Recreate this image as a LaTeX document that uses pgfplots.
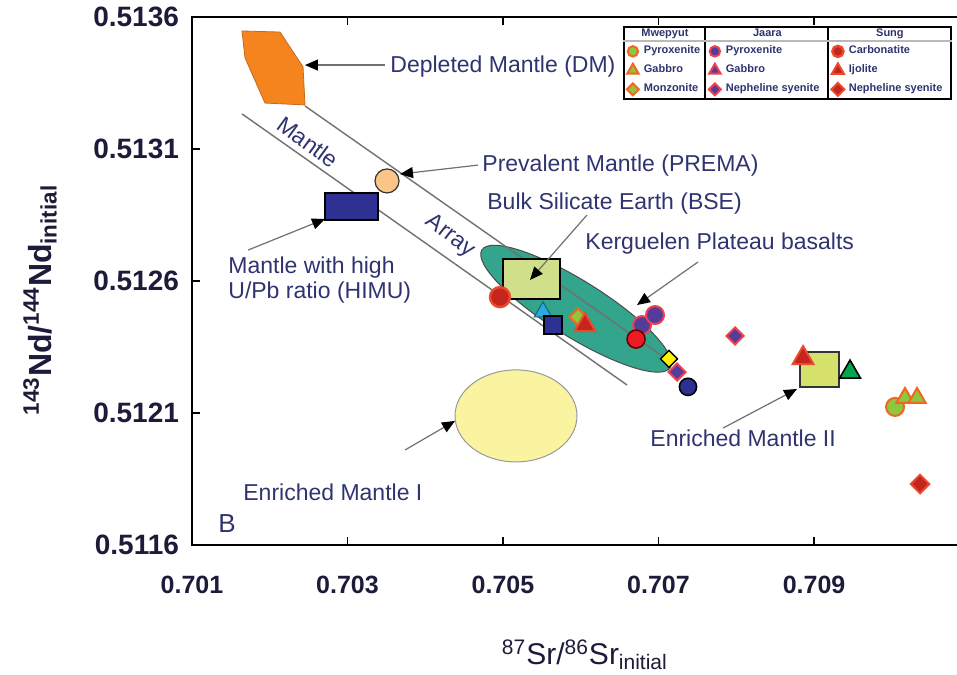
\documentclass[border=0pt]{standalone}
\usepackage{fontspec}
\setmainfont{Liberation Sans}
\usepackage{pgfplots}
\pgfplotsset{compat=1.18}
\usetikzlibrary{arrows.meta}

\definecolor{txt}{HTML}{2F3470}
\definecolor{tickc}{HTML}{1C1C3A}
\definecolor{mwgreen}{HTML}{8DC63F}
\definecolor{mworange}{HTML}{F26522}
\definecolor{jpurple}{HTML}{553C9A}
\definecolor{jred}{HTML}{EF4050}
\definecolor{sred}{HTML}{C4261D}
\definecolor{sedge}{HTML}{EA4A2E}
\definecolor{brightred}{HTML}{ED1C24}
\definecolor{navy}{HTML}{2E3192}
\definecolor{cyanm}{HTML}{29ABE2}
\definecolor{yel}{HTML}{FFF200}
\definecolor{gtri}{HTML}{00A650}
\definecolor{dmorange}{HTML}{F5841F}
\definecolor{prema}{HTML}{FBC588}
\definecolor{bse}{HTML}{D0DF8A}
\definecolor{emii}{HTML}{D5E16B}
\definecolor{kerg}{HTML}{33A58C}
\definecolor{emi}{HTML}{FAF3A0}
\definecolor{linec}{HTML}{707070}

\pgfplotsset{
  mwpyx/.style={only marks, mark=*, mark size=#1, mark options={fill=mwgreen, draw=mworange, line width=1pt}}, mwpyx/.default=4.5pt,
  mwgab/.style={only marks, mark=triangle*, mark size=#1, mark options={fill=mwgreen, draw=mworange, line width=1pt}}, mwgab/.default=5pt,
  mwmon/.style={only marks, mark=square*, mark size=#1, mark options={rotate=45, fill=mwgreen, draw=mworange, line width=1pt}}, mwmon/.default=3pt,
  jpyx/.style={only marks, mark=*, mark size=#1, mark options={fill=jpurple, draw=jred, line width=1pt}}, jpyx/.default=4.5pt,
  jgab/.style={only marks, mark=triangle*, mark size=#1, mark options={fill=jpurple, draw=jred, line width=1pt}}, jgab/.default=5pt,
  jnep/.style={only marks, mark=square*, mark size=#1, mark options={rotate=45, fill=jpurple, draw=jred, line width=1pt}}, jnep/.default=3pt,
  scarb/.style={only marks, mark=*, mark size=#1, mark options={fill=sred, draw=sedge, line width=1.2pt}}, scarb/.default=5pt,
  sijo/.style={only marks, mark=triangle*, mark size=#1, mark options={fill=sred, draw=sedge, line width=1pt}}, sijo/.default=6pt,
  snep/.style={only marks, mark=square*, mark size=#1, mark options={rotate=45, fill=sred, draw=sedge, line width=1pt}}, snep/.default=3.3pt,
}
\tikzset{
  arr/.style={draw=linec, line width=0.6pt, -{Triangle[length=6.5pt,width=5.5pt,black]}},
  lab/.style={anchor=west, inner sep=0pt, text=txt, font=\fontsize{11.5}{12.5}\selectfont},
}

\begin{document}
\begin{tikzpicture}
\begin{axis}[
  scale only axis, width=389pt, height=264pt,
  xmin=0.701, xmax=0.711006, ymin=0.5116, ymax=0.5136,
  scaled ticks=false,
  xtick={0.701,0.703,0.705,0.707,0.709},
  xticklabels={0.701,0.703,0.705,0.707,0.709},
  ytick={0.5116,0.5121,0.5126,0.5131,0.5136},
  yticklabels={0.5116,0.5121,0.5126,0.5131,0.5136},
  tick align=inside, major tick length=4pt,
  tick style={black, line width=0.6pt},
  axis line style={black, line width=0.8pt},
  xticklabel style={font=\fontsize{12.5}{14}\selectfont\bfseries, text=tickc, yshift=-12pt},
  yticklabel style={font=\fontsize{14}{16}\selectfont\bfseries, text=tickc, xshift=-3pt},
  xlabel={\textsuperscript{87}Sr/\textsuperscript{86}Sr\textsubscript{initial}},
  ylabel={\bfseries\textsuperscript{143}Nd/\textsuperscript{144}Nd\textsubscript{initial}},
  xlabel style={at={(rel axis cs:0.505,-0.208)}, anchor=center, font=\fontsize{15}{17}\selectfont, text=tickc},
  ylabel style={at={(rel axis cs:-0.1954,0.464)}, anchor=center, font=\fontsize{16}{18}\selectfont, text=tickc},
  legend columns=3,
  legend cell align=left,
  legend image code/.code={\path[draw=none, fill=none] (0pt,-4.75pt) rectangle (9pt,4.75pt);
     \draw[mark repeat=2,mark phase=2] plot coordinates {(0pt,0pt) (4.5pt,0pt) (9pt,0pt)};},
  legend style={name=leg, at={(rel axis cs:0.554,0.983)}, anchor=north west,
     draw=black, line width=0.9pt, inner sep=0pt, column sep=0pt, row sep=0pt, fill=white,
     font=\fontsize{5.5}{7}\selectfont\bfseries,
     nodes={inner xsep=1pt, inner ysep=1.5pt, text height=3.5pt, text depth=1pt, text=txt}},
]
% Enriched Mantle I
\draw[fill=emi, draw=gray!80, line width=0.5pt] (axis cs:0.705167,0.512089) ellipse [x radius=30.5pt, y radius=23pt];
% Mantle array lower line
\addplot[linec, line width=0.7pt, forget plot] coordinates {(0.701643,0.513233) (0.706595,0.512206)};
% Kerguelen ellipse
\coordinate (KP) at (axis cs:0.705939,0.512495);
\fill[kerg, draw=black!70, line width=0.5pt, rotate around={-32:(KP)}] (KP) ellipse [x radius=55.5pt, y radius=14pt];
% Mantle array upper line
\addplot[linec, line width=0.7pt, forget plot] coordinates {(0.702453,0.513263) (0.707084,0.512308)};
% DM
\addplot[fill=dmorange, draw=dmorange!80!black, line width=0.4pt, forget plot] coordinates {(0.701643,0.513547) (0.702132,0.513543) (0.702428,0.513411) (0.702453,0.513267) (0.701939,0.513274) (0.701682,0.513445)} --cycle;
% HIMU
\addplot[fill=navy, draw=black, line width=0.8pt, forget plot] coordinates {(0.702711,0.512933) (0.703392,0.512933) (0.703392,0.512831) (0.702711,0.512831)} --cycle;
% PREMA
\addplot[only marks, mark=*, mark size=6pt, mark options={fill=prema, draw=black!80, line width=0.6pt}, forget plot] coordinates {(0.703508,0.512979)};
% BSE
\addplot[fill=bse, draw=black, line width=0.9pt, forget plot] coordinates {(0.705000,0.512683) (0.705733,0.512683) (0.705733,0.512532) (0.705000,0.512532)} --cycle;
% EMII
\addplot[fill=emii, draw=black!80, line width=0.9pt, forget plot] coordinates {(0.708820,0.512331) (0.709322,0.512331) (0.709322,0.512198) (0.708820,0.512198)} --cycle;

% arrows
\draw[arr] (axis cs:0.703482,0.513418) -- (axis cs:0.702453,0.513418);
\draw[arr] (axis cs:0.704678,0.513039) -- (axis cs:0.703675,0.513005);
\draw[arr] (axis cs:0.706080,0.512850) -- (axis cs:0.705347,0.512604);
\draw[arr] (axis cs:0.707508,0.512672) -- (axis cs:0.706723,0.512509);
\draw[arr] (axis cs:0.701720,0.512717) -- (axis cs:0.702711,0.512835);
\draw[arr] (axis cs:0.703740,0.511960) -- (axis cs:0.704383,0.512070);
\draw[arr] (axis cs:0.707830,0.512043) -- (axis cs:0.708781,0.512191);

% data points
\addplot[scarb, forget plot] coordinates {(0.704961,0.512539)};
\addplot[only marks, mark=triangle*, mark size=5pt, mark options={fill=cyanm, draw=cyanm!60!black, line width=0.6pt}, forget plot] coordinates {(0.705514,0.512483)};
\addplot[only marks, mark=square*, mark size=4.5pt, mark options={fill=navy, draw=black, line width=0.8pt}, forget plot] coordinates {(0.705643,0.512433)};
\addplot[mwmon, forget plot] coordinates {(0.705965,0.512464)};
\addplot[sijo, forget plot] coordinates {(0.706055,0.512433) (0.708859,0.512308)};
\addplot[jpyx, forget plot] coordinates {(0.706788,0.512433) (0.706955,0.512471)};
\addplot[only marks, mark=*, mark size=4.5pt, mark options={fill=brightred, draw=black!60!red, line width=0.8pt}, forget plot] coordinates {(0.706711,0.512380)};
\addplot[only marks, mark=square*, mark size=3pt, mark options={rotate=45, fill=yel, draw=black, line width=0.7pt}, forget plot] coordinates {(0.707135,0.512305)};
\addplot[jnep, forget plot] coordinates {(0.707238,0.512255) (0.707984,0.512392)};
\addplot[only marks, mark=*, mark size=4.3pt, mark options={fill=navy, draw=black, line width=0.8pt}, forget plot] coordinates {(0.707379,0.512199)};
\addplot[only marks, mark=triangle*, mark size=6pt, mark options={fill=gtri, draw=black, line width=0.8pt}, forget plot] coordinates {(0.709463,0.512255)};
\addplot[mwpyx, forget plot] coordinates {(0.710042,0.512123)};
\addplot[mwgab, forget plot] coordinates {(0.710170,0.512157) (0.710325,0.512157)};
\addplot[snep, forget plot] coordinates {(0.710363,0.511831)};

% labels
\node[lab] at (axis cs:0.703547,0.513411) {Depleted Mantle (DM)};
\node[lab] at (axis cs:0.704730,0.513039) {Prevalent Mantle (PREMA)};
\node[lab] at (axis cs:0.704794,0.512895) {Bulk Silicate Earth (BSE)};
\node[lab] at (axis cs:0.706055,0.512740) {Kerguelen Plateau basalts};
\node[lab, align=left] at (axis cs:0.701463,0.512604) {Mantle with high\\U/Pb ratio (HIMU)};
\node[lab] at (axis cs:0.701656,0.511801) {Enriched Mantle I};
\node[lab] at (axis cs:0.706891,0.512005) {Enriched Mantle II};
\node[text=txt, font=\fontsize{13}{14}\selectfont, inner sep=0pt] at (axis cs:0.701450,0.511683) {B};
\node[text=txt, font=\fontsize{11.5}{12.5}\selectfont, rotate=-36, inner sep=0pt] at (axis cs:0.702492,0.513127) {Mantle};
\node[text=txt, font=\fontsize{11.5}{12.5}\selectfont, rotate=-38, inner sep=0pt] at (axis cs:0.704318,0.512770) {Array};

% legend
\addlegendimage{empty legend}\addlegendentry{\makebox[30pt][c]{\hspace*{-9pt}Mwepyut}}
\addlegendimage{empty legend}\addlegendentry{\makebox[50.5pt][c]{\hspace*{-9pt}Jaara}}
\addlegendimage{empty legend}\addlegendentry{\makebox[50pt][c]{\hspace*{-9pt}Sung}}
\addlegendimage{mwpyx=2.6pt}\addlegendentry{\makebox[30pt][l]{Pyroxenite}}
\addlegendimage{jpyx=2.6pt}\addlegendentry{\makebox[50.5pt][l]{Pyroxenite}}
\addlegendimage{scarb=2.8pt}\addlegendentry{\makebox[50pt][l]{Carbonatite}}
\addlegendimage{mwgab=3.3pt}\addlegendentry{\makebox[30pt][l]{Gabbro}}
\addlegendimage{jgab=3.3pt}\addlegendentry{\makebox[50.5pt][l]{Gabbro}}
\addlegendimage{sijo=3.5pt}\addlegendentry{\makebox[50pt][l]{Ijolite}}
\addlegendimage{mwmon=2.1pt}\addlegendentry{\makebox[30pt][l]{Monzonite}}
\addlegendimage{jnep=2.1pt}\addlegendentry{\makebox[50.5pt][l]{Nepheline syenite}}
\addlegendimage{snep=2.3pt}\addlegendentry{\makebox[50pt][l]{Nepheline syenite}}
\end{axis}
\draw[black, line width=0.9pt] ([xshift=41pt]leg.north west) -- ([xshift=41pt]leg.south west);
\draw[black, line width=0.9pt] ([xshift=102.5pt]leg.north west) -- ([xshift=102.5pt]leg.south west);
\draw[gray!55, line width=1.4pt] ([yshift=-7.5pt]leg.north west) -- ([yshift=-7.5pt]leg.north east);
\pgfresetboundingbox
\path[use as bounding box] (-96pt,-64.5pt) rectangle (382.5pt,272.5pt);
\end{tikzpicture}
\end{document}
